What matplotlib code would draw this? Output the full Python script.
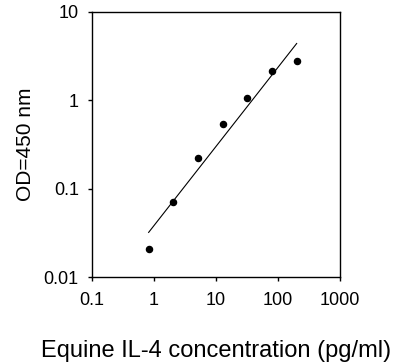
import matplotlib
matplotlib.use('Agg')
from matplotlib import pyplot as plt
from matplotlib.ticker import FixedLocator, NullLocator

# standard curve data
conc = [0.82, 2.05, 5.12, 12.8, 32, 80, 200]
od = [0.021, 0.071, 0.22, 0.54, 1.07, 2.17, 2.8]

# fitted line endpoints
fit_x = [0.82, 200]
fit_y = [0.032, 4.4]

x_ticks = [0.1, 1, 10, 100, 1000]
x_labels = ['0.1', '1', '10', '100', '1000']
y_ticks = [0.01, 0.1, 1, 10]
y_labels = ['0.01', '0.1', '1', '10']

plt.rcParams['font.family'] = ['Liberation Sans', 'DejaVu Sans']

fig = plt.figure(figsize=(3.93, 3.64), dpi=100)
ax = fig.add_axes([92/393, 1 - 277/364, 248/393, 265/364])

ax.plot(fit_x, fit_y, color='black', linewidth=0.8)
ax.plot(conc, od, 'o', color='black', markersize=4.4)

ax.set_xscale('log')
ax.set_yscale('log')
ax.set_xlim(0.1, 1000)
ax.set_ylim(0.01, 10)

ax.xaxis.set_major_locator(FixedLocator(x_ticks))
ax.yaxis.set_major_locator(FixedLocator(y_ticks))
ax.xaxis.set_minor_locator(NullLocator())
ax.yaxis.set_minor_locator(NullLocator())
ax.set_xticklabels(x_labels)
ax.set_yticklabels(y_labels)

ax.tick_params(axis='both', direction='out', length=3, width=1, labelsize=13)
ax.tick_params(axis='x', pad=8)
ax.tick_params(axis='y', pad=6.5)

for s in ax.spines.values():
    s.set_linewidth(1.0)

ax.set_xlabel('Equine IL-4 concentration (pg/ml)', fontsize=17, labelpad=22)
ax.set_ylabel('OD=450 nm', fontsize=15, labelpad=6)

fig.savefig('out.png', dpi=100)
